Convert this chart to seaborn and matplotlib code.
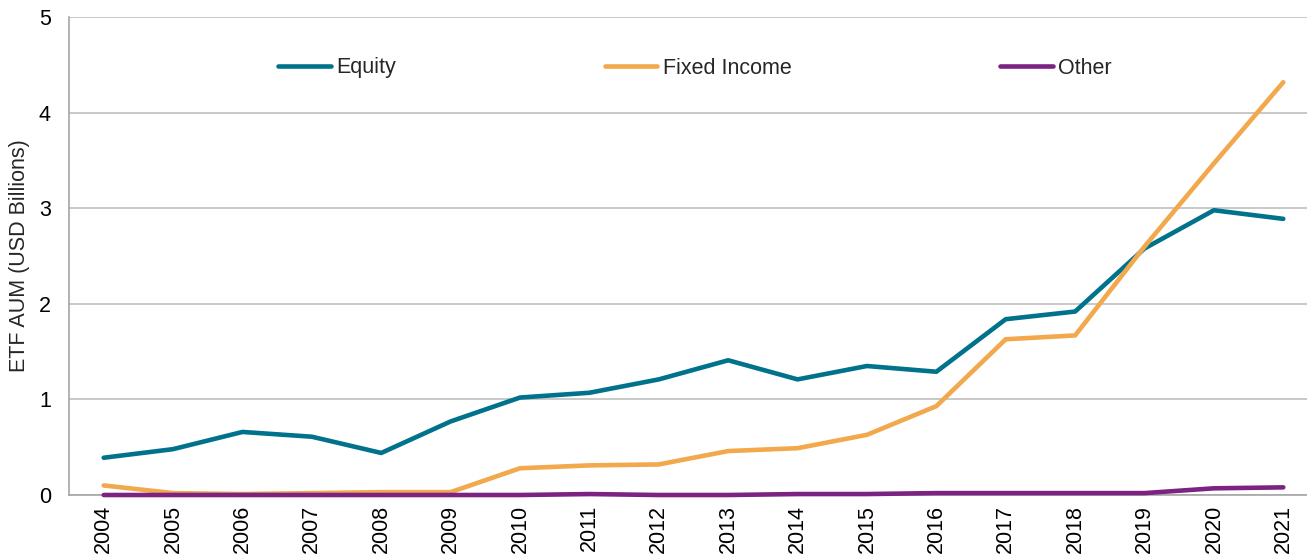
import matplotlib
matplotlib.use("Agg")
import matplotlib.pyplot as plt
import seaborn as sns
import pandas as pd

years = list(range(2004, 2022))
equity = [0.39, 0.48, 0.66, 0.61, 0.44, 0.77, 1.02, 1.07, 1.21, 1.41, 1.21, 1.35, 1.29, 1.84, 1.92, 2.58, 2.98, 2.89]
fixed_income = [0.10, 0.02, 0.01, 0.02, 0.03, 0.03, 0.28, 0.31, 0.32, 0.46, 0.49, 0.63, 0.93, 1.63, 1.67, 2.60, 3.47, 4.32]
other = [0.00, 0.00, 0.00, 0.00, 0.00, 0.00, 0.00, 0.01, 0.00, 0.00, 0.01, 0.01, 0.02, 0.02, 0.02, 0.02, 0.07, 0.08]
series_names = ["Equity", "Fixed Income", "Other"]
colors = ["#00728C", "#F2A84C", "#7B2283"]
y_ticks = [0, 1, 2, 3, 4, 5]
y_label = "ETF AUM (USD Billions)"

df = pd.DataFrame({
    "Year": years * 3,
    "Value": equity + fixed_income + other,
    "Series": [series_names[0]] * len(years) + [series_names[1]] * len(years) + [series_names[2]] * len(years),
})

sns.set_theme(style="white")
plt.rcParams["font.family"] = ["Liberation Sans", "DejaVu Sans"]
FS = 15.5

fig = plt.figure(figsize=(13.07, 5.56), dpi=100)
ax = fig.add_axes([0.0528, 0.1097, 0.9556, 0.8593])

sns.lineplot(data=df, x="Year", y="Value", hue="Series", hue_order=series_names,
             palette=dict(zip(series_names, colors)), linewidth=3.3,
             solid_capstyle="round", ax=ax, legend=True)
for ln in ax.lines:
    ln.set_clip_on(False)
    ln.set_zorder(3)

ax.set_xlim(years[0] - 0.5, years[-1] + 0.5)
ax.set_ylim(0, 5)
ax.set_yticks(y_ticks)
ax.set_yticklabels([str(t) for t in y_ticks], fontsize=FS)
ax.set_xticks(years)
ax.set_xticklabels([str(y) for y in years], rotation=90, fontsize=FS)
ax.tick_params(axis="y", length=0, pad=13, colors="black")
ax.tick_params(axis="x", length=0, pad=7, colors="black")
ax.set_xlabel("")
ax.set_ylabel(y_label, fontsize=FS, labelpad=6)
ax.yaxis.grid(True, color="#BFBFBF", linewidth=1.2)
ax.set_axisbelow(True)
for side in ["top", "right"]:
    ax.spines[side].set_visible(False)
for side in ["left", "bottom"]:
    ax.spines[side].set_color("#A6A6A6")
    ax.spines[side].set_linewidth(1.2)
    ax.spines[side].set_zorder(1)

handles, labels = ax.get_legend_handles_labels()
for h in handles:
    h.set_solid_capstyle("round")
ax.legend(handles, labels, loc="center", bbox_to_anchor=(695 / 1307, 1 - 68 / 556),
          bbox_transform=fig.transFigure, ncol=3, frameon=False, fontsize=FS,
          handlelength=2.45, handletextpad=0.25, columnspacing=9.7)

fig.savefig("out.png", dpi=100)
